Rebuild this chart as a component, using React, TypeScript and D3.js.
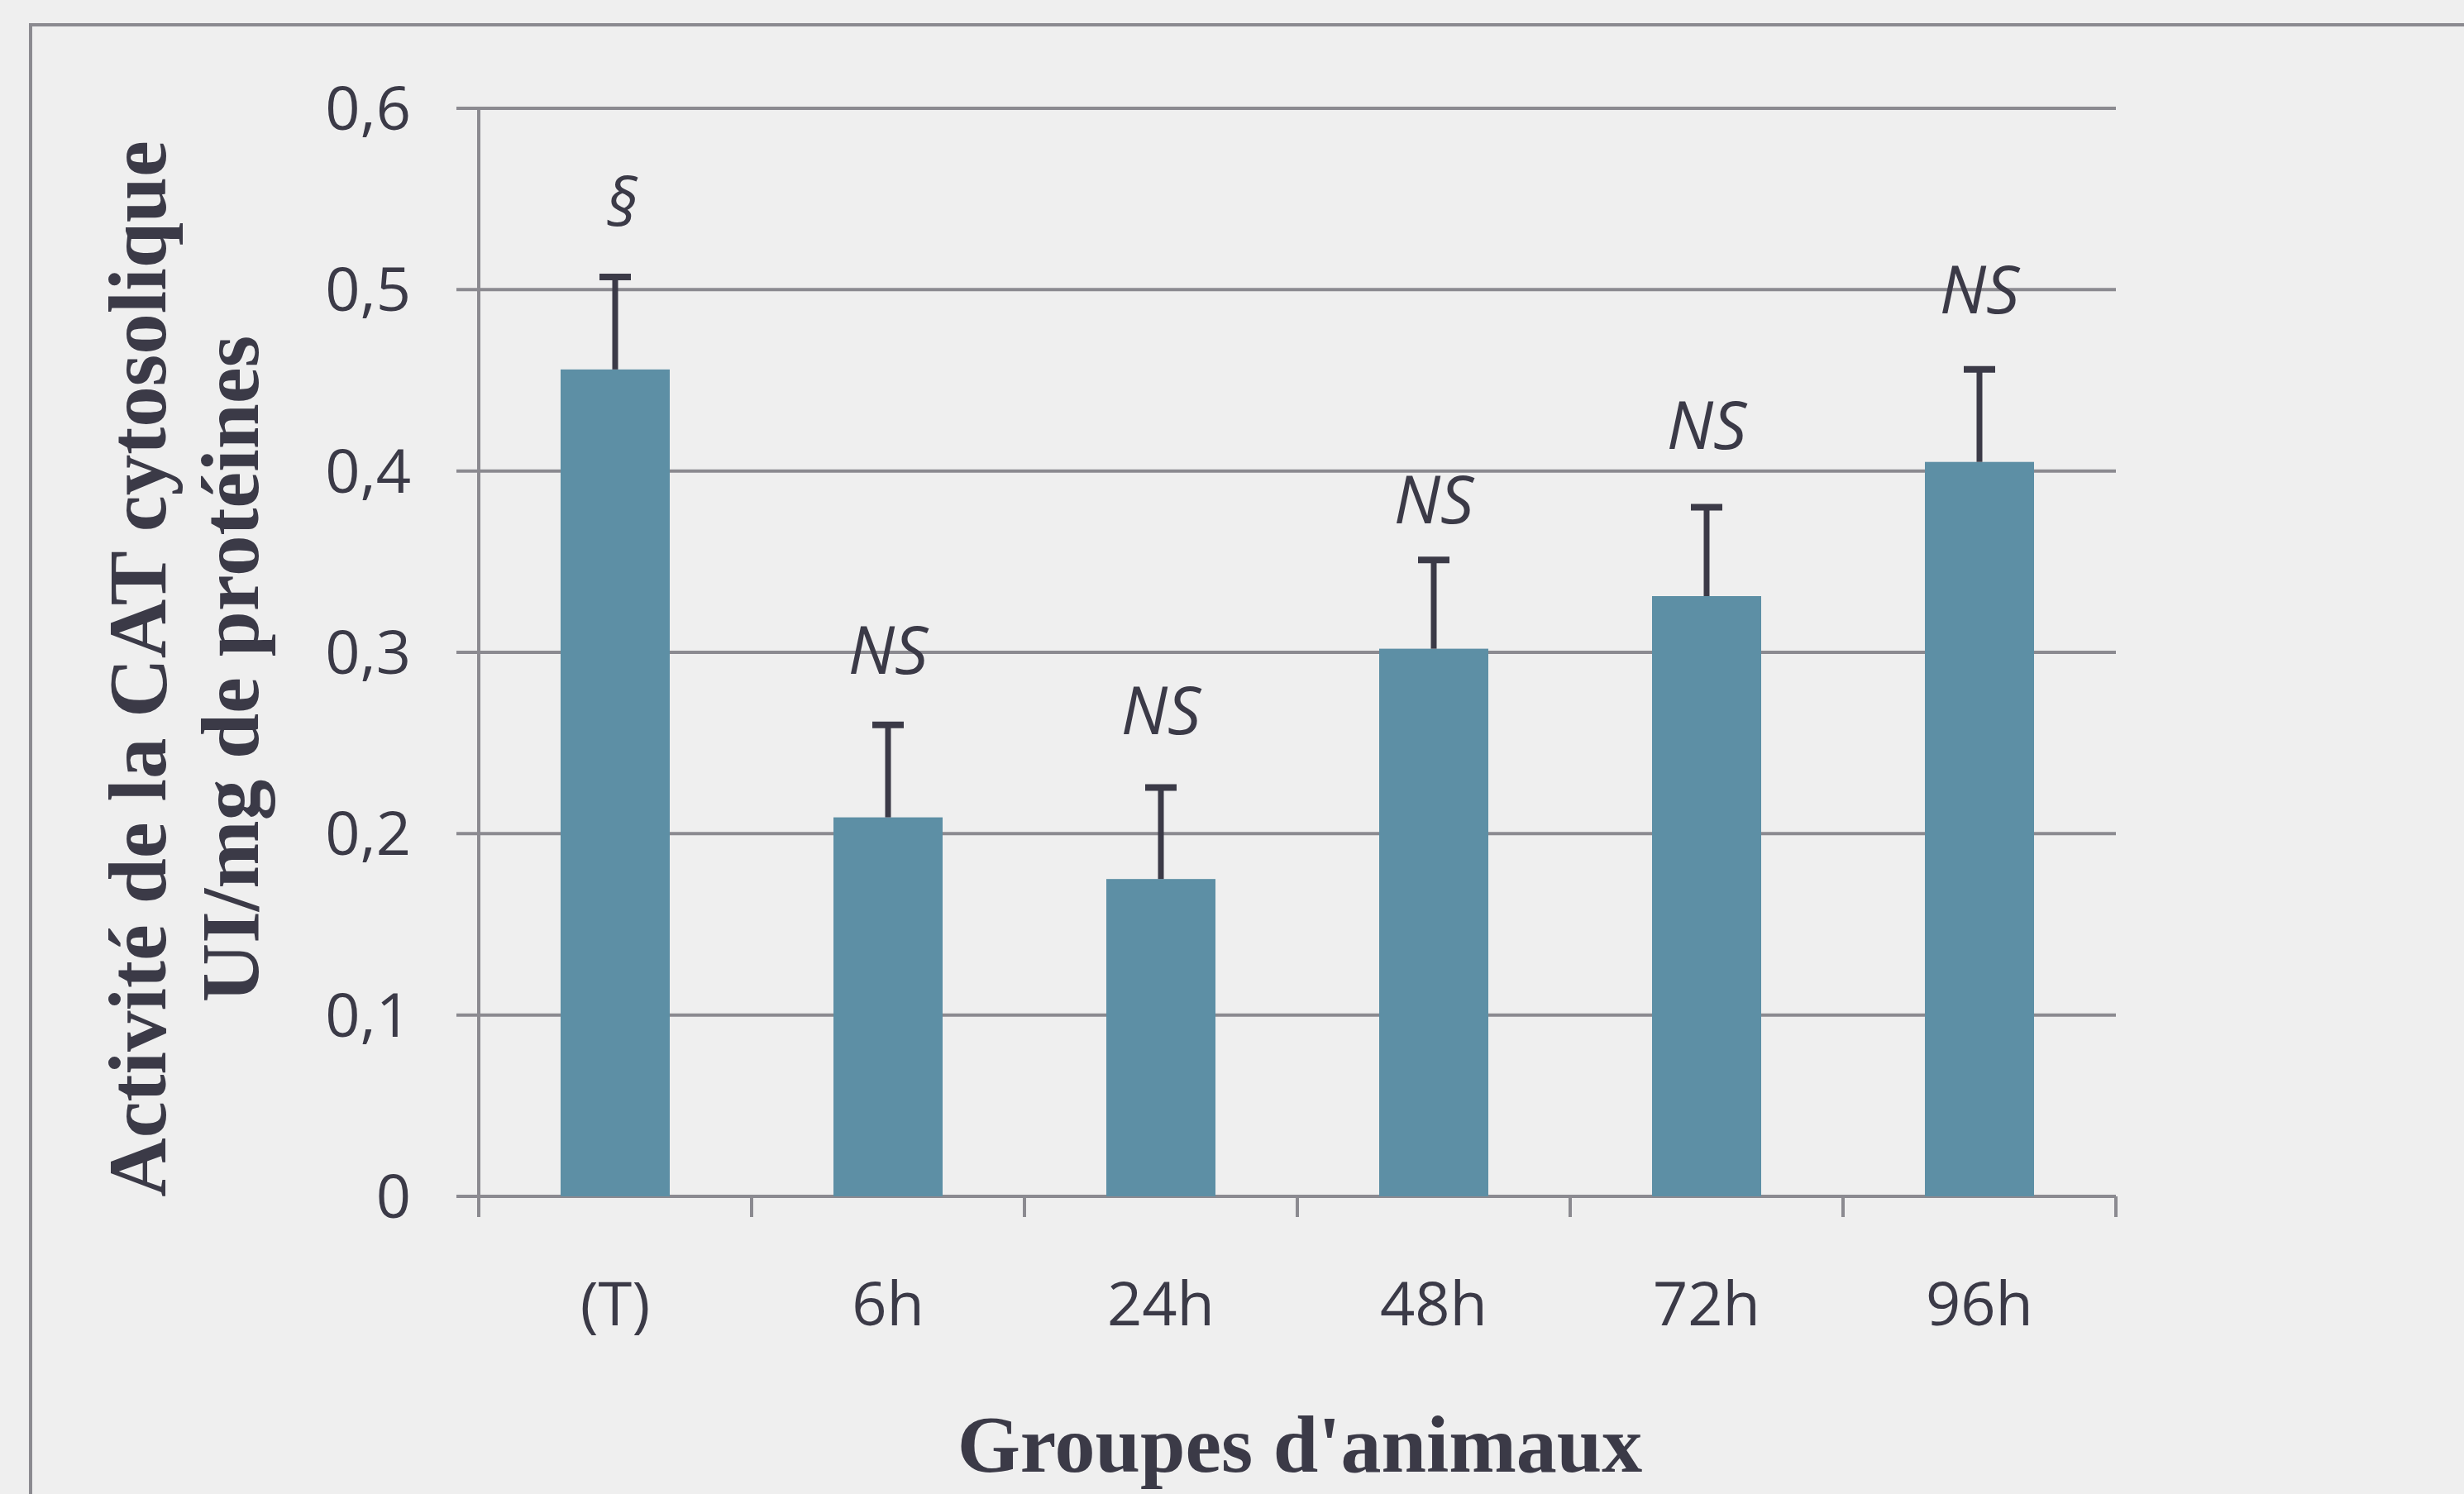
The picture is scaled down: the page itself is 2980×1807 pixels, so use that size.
import React from "react";
import * as d3 from "d3";

const categories = ["(T)", "6h", "24h", "48h", "72h", "96h"];
const means = [0.456, 0.209, 0.175, 0.302, 0.331, 0.405];
const errors = [0.051, 0.051, 0.0505, 0.049, 0.049, 0.051];
const marks = ["§", "NS", "NS", "NS", "NS", "NS"];
const markAnchor = [0.535, 0.288, 0.255, 0.371, 0.412, 0.487];
const yTicks = [0, 0.1, 0.2, 0.3, 0.4, 0.5, 0.6];
const yTickLabels = ["0", "0,1", "0,2", "0,3", "0,4", "0,5", "0,6"];
const yTitleLines = ["Activité de la CAT cytosolique", "UI/mg de protéines"];
const xTitle = "Groupes d'animaux";

const W = 2980;
const H = 1807;
const left = 579;
const right = 2559;
const top = 131;
const bottom = 1447;

const BG = "#efefef";
const GRID = "#8b8a90";
const BAR = "#5d8fa5";
const INK = "#3b3a47";

export default function App() {
  const x = d3
    .scaleBand<string>()
    .domain(categories)
    .range([left, right])
    .paddingInner(0.6)
    .paddingOuter(0.3);
  const y = d3.scaleLinear().domain([0, 0.6]).range([bottom, top]);
  const step = x.step();
  const boundaries = d3.range(categories.length + 1).map((i) => left + i * step);
  const tickFont = "'Open Sans', 'Noto Sans', sans-serif";
  const serif = "'Liberation Serif', 'DejaVu Serif', serif";

  return (
    <svg
      width={W}
      height={H}
      style={{ position: "absolute", left: 0, top: 0, display: "block" }}
    >
      <rect x={0} y={0} width={W} height={H} fill={BG} />
      {/* outer frame */}
      <path d={`M37,${H} V30 H${W}`} fill="none" stroke={GRID} strokeWidth={4} />

      {/* gridlines */}
      {yTicks.map((t) => (
        <line
          key={"g" + t}
          x1={left - 27}
          x2={right}
          y1={y(t)}
          y2={y(t)}
          stroke={GRID}
          strokeWidth={4}
        />
      ))}
      {/* y axis */}
      <line x1={left} x2={left} y1={top} y2={bottom + 25} stroke={GRID} strokeWidth={4} />
      {/* x ticks */}
      {boundaries.map((b, i) => (
        <line
          key={"xt" + i}
          x1={b}
          x2={b}
          y1={bottom}
          y2={bottom + 25}
          stroke={GRID}
          strokeWidth={4}
        />
      ))}

      {/* bars */}
      {categories.map((c, i) => (
        <rect
          key={"b" + c}
          x={x(c)}
          y={y(means[i])}
          width={x.bandwidth()}
          height={y(0) - y(means[i])}
          fill={BAR}
        />
      ))}

      {/* error bars */}
      {categories.map((c, i) => {
        const cx = (x(c) as number) + x.bandwidth() / 2;
        const yt = y(means[i] + errors[i]);
        return (
          <g key={"e" + c}>
            <line x1={cx} x2={cx} y1={y(means[i])} y2={yt} stroke={INK} strokeWidth={7} />
            <line x1={cx - 19} x2={cx + 19} y1={yt} y2={yt} stroke={INK} strokeWidth={8} />
          </g>
        );
      })}

      {/* significance marks */}
      {categories.map((c, i) => {
        const cx = (x(c) as number) + x.bandwidth() / 2 + (marks[i] === "§" ? 8 : 0);
        return (
          <text
            key={"m" + c}
            x={cx}
            y={y(markAnchor[i])}
            textAnchor="middle"
            fontFamily={tickFont}
            fontStyle="italic"
            fontSize={80}
            fill={INK}
          >
            {marks[i]}
          </text>
        );
      })}

      {/* y tick labels */}
      {yTicks.map((t, i) => (
        <text
          key={"yl" + t}
          x={497}
          y={y(t) + 26}
          textAnchor="end"
          fontFamily={tickFont}
          fontSize={74}
          fill={INK}
        >
          {yTickLabels[i]}
        </text>
      ))}

      {/* x tick labels */}
      {categories.map((c) => (
        <text
          key={"xl" + c}
          x={(x(c) as number) + x.bandwidth() / 2}
          y={1603}
          textAnchor="middle"
          fontFamily={tickFont}
          fontSize={74}
          fill={INK}
        >
          {c}
        </text>
      ))}

      {/* y title */}
      {yTitleLines.map((line, i) => (
        <text
          key={"yt" + i}
          transform={`translate(${200 + i * 112},809) rotate(-90)`}
          textAnchor="middle"
          fontFamily={serif}
          fontWeight="bold"
          fontSize={99}
          fill={INK}
        >
          {line}
        </text>
      ))}

      {/* x title */}
      <text
        x={(left + right) / 2 + 3}
        y={1780}
        textAnchor="middle"
        fontFamily={serif}
        fontWeight="bold"
        fontSize={98}
        fill={INK}
      >
        {xTitle}
      </text>
    </svg>
  );
}
